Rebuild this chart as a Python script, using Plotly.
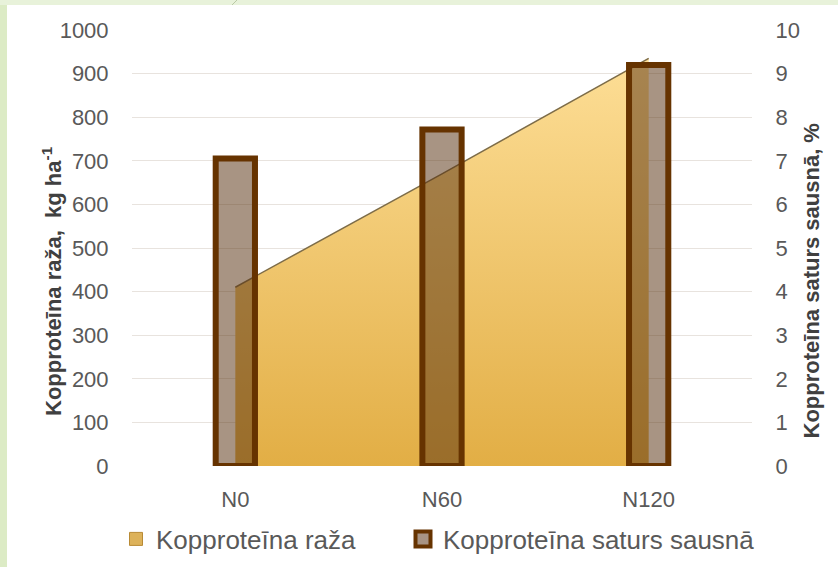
import plotly.graph_objects as go

categories = ["N0", "N60", "N120"]
yield_kg_ha = [410, 670, 935]          # Kopproteīna raža (left axis)
content_pct = [7.05, 7.72, 9.2]        # Kopproteīna saturs sausnā (right axis)
left_ticks = list(range(0, 1001, 100))
right_ticks = list(range(0, 11, 1))

W, H = 838, 567
L, R, T, B = 132, 752, 30, 466

def px(x):
    return (x - L) / (R - L)

def py(y):
    return (B - y) / (B - T)

FONT = "Liberation Sans, Arial, sans-serif"
TICK = 22
LEG = 26

fig = go.Figure()

fig.add_trace(go.Scatter(
    x=categories, y=yield_kg_ha, mode="lines", fill="tozeroy",
    line=dict(color="#7d6c48", width=1.5),
    fillgradient=dict(type="vertical",
                      colorscale=[[0, "#E2AE45"], [1, "#FDDE96"]]),
    yaxis="y", showlegend=False, name="Kopproteīna raža",
))

fig.add_trace(go.Bar(
    x=categories, y=content_pct, width=0.19,
    marker=dict(color="rgba(88,49,18,0.52)",
                line=dict(color="#663300", width=6)),
    yaxis="y2", showlegend=False, name="Kopproteīna saturs sausnā",
))

# legend entries
fig.add_trace(go.Scatter(
    x=[None], y=[None], mode="markers", name="Kopproteīna raža",
    legend="legend",
    marker=dict(symbol="square", size=13, color="#DDB25A",
                line=dict(color="#B88A35", width=1)),
))
fig.add_trace(go.Scatter(
    x=[None], y=[None], mode="markers", name="Kopproteīna saturs sausnā",
    legend="legend2",
    marker=dict(symbol="square", size=15, color="#A89484",
                line=dict(color="#663300", width=4)),
))

leg_common = dict(orientation="h", y=py(539), yanchor="middle",
                  xanchor="left", font=dict(size=LEG, color="#595959"),
                  itemwidth=30, bgcolor="rgba(0,0,0,0)")

fig.update_layout(
    width=W, height=H,
    margin=dict(l=L, r=W - R, t=T, b=H - B, autoexpand=False),
    paper_bgcolor="white", plot_bgcolor="white",
    font=dict(family=FONT, color="#595959", size=TICK),
    barmode="overlay",
    xaxis=dict(range=[-0.5, 2.5], showgrid=False, zeroline=False,
               ticks="outside", ticklen=14, tickcolor="rgba(0,0,0,0)",
               tickfont=dict(size=TICK, color="#595959")),
    yaxis=dict(range=[0, 1000], tickvals=left_ticks, showgrid=True,
               gridcolor="#E8E3DE", gridwidth=1, zeroline=False,
               ticks="outside", ticklen=18, tickcolor="rgba(0,0,0,0)",
               tickfont=dict(size=TICK, color="#595959")),
    yaxis2=dict(range=[0, 10], tickvals=right_ticks, overlaying="y",
                side="right", showgrid=False, zeroline=False,
                ticks="outside", ticklen=18, tickcolor="rgba(0,0,0,0)",
                tickfont=dict(size=TICK, color="#595959")),
    legend=dict(x=px(116), **leg_common),
    legend2=dict(x=px(403), **leg_common),
    annotations=[
        dict(text="<b>Kopproteīna raža,  kg ha<sup>-1</sup></b>",
             xref="paper", yref="paper", x=px(36), y=py(281),
             textangle=-90, showarrow=False,
             font=dict(size=22, color="#404040", family=FONT)),
        dict(text="<b>Kopproteīna saturs sausnā, %</b>",
             xref="paper", yref="paper", x=px(825), y=py(281),
             textangle=-90, showarrow=False,
             font=dict(size=22, color="#404040", family=FONT)),
    ],
    shapes=[
        dict(type="rect", xref="paper", yref="paper", layer="below",
             x0=px(0), x1=px(7), y0=py(H), y1=py(0),
             fillcolor="#DCEBC5", line=dict(width=0)),
        dict(type="rect", xref="paper", yref="paper", layer="below",
             x0=px(0), x1=px(W), y0=py(5), y1=py(0),
             fillcolor="#E8F2DA", line=dict(width=0)),
        dict(type="line", xref="paper", yref="paper",
             x0=px(232), x1=px(237), y0=py(5), y1=py(0),
             line=dict(color="#B9C9A5", width=1)),
    ],
)

fig.write_html("out.html",
               config={"displayModeBar": False},
               post_script="document.body.style.margin='0px';"
                           "document.body.style.overflow='hidden';")
